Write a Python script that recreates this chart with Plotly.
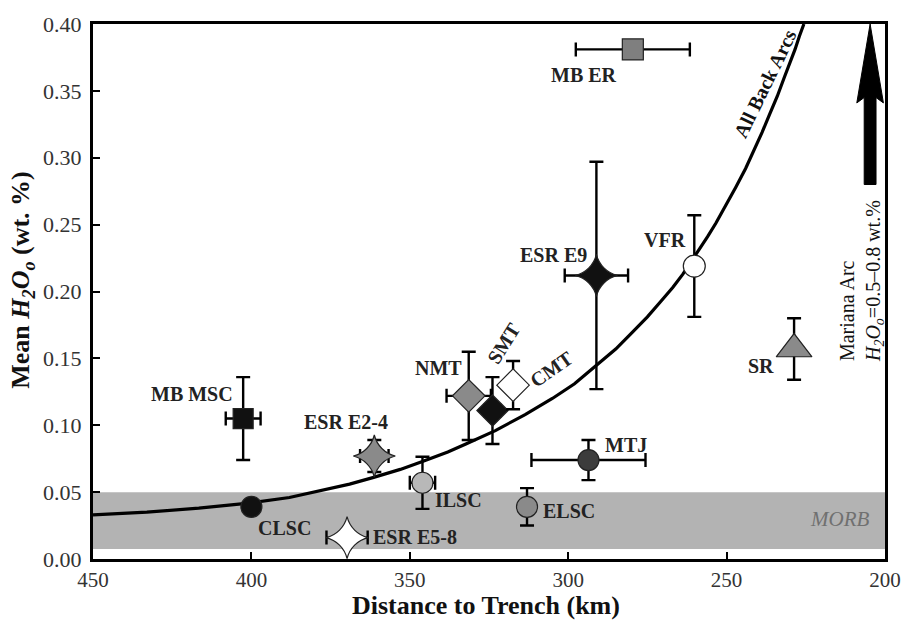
import plotly.graph_objects as go

# ---------------- data ----------------
sites = ["MB MSC", "MB ER", "CLSC", "ILSC", "ELSC", "MTJ", "VFR", "SR",
         "NMT", "SMT", "CMT", "ESR E2-4", "ESR E5-8", "ESR E9"]
distance_km = [402.6, 279.6, 400.0, 346.0, 313.0, 293.6, 260.2, 228.7,
               331.4, 323.9, 317.4, 361.2, 369.8, 291.1]
distance_err = [5.5, 18.0, 0, 4.0, 0, 18.0, 0, 0,
                7.0, 2.5, 0, 4.5, 6.5, 10.0]
h2o_mean = [0.105, 0.381, 0.039, 0.057, 0.039, 0.074, 0.219, 0.157,
            0.122, 0.111, 0.130, 0.077, 0.016, 0.212]
h2o_err = [0.031, 0, 0, 0.0195, 0.014, 0.015, 0.038, 0.023,
           0.033, 0.025, 0.018, 0.012, 0, 0.085]

# "All Back Arcs" curve
curve_km = [450, 433, 416.6, 400.0, 388, 378.2, 369, 361.4, 353, 345.8, 338, 332.3,
            323.0, 313.6, 305, 298.0, 290.8, 285, 280.4, 275, 271.0, 267, 263.8,
            259.8, 256, 253.4, 250, 247.1, 244, 241.2, 238.8, 236.5, 234, 231.8,
            230, 228.4, 227, 225.6]
curve_h2o = [0.033, 0.035, 0.038, 0.042, 0.046, 0.051, 0.056, 0.061, 0.067, 0.073,
             0.080, 0.086, 0.096, 0.108, 0.120, 0.131, 0.145, 0.157, 0.168, 0.181,
             0.192, 0.203, 0.213, 0.227, 0.241, 0.251, 0.265, 0.278, 0.292, 0.306,
             0.319, 0.332, 0.346, 0.360, 0.371, 0.381, 0.391, 0.400]

morb_low, morb_high = 0.0075, 0.05
mariana_arrow_km = 204.7
mariana_arrow_from, mariana_arrow_to = 0.28, 0.40

x_ticks = [450, 400, 350, 300, 250, 200]
y_ticks = [0.00, 0.05, 0.10, 0.15, 0.20, 0.25, 0.30, 0.35, 0.40]

# ---------------- styles ----------------
symbols = ["square", "square", "circle", "circle", "circle", "circle", "circle",
           "triangle-up", "diamond", "diamond", "diamond",
           "star-diamond", "star-diamond", "star-diamond"]
fills = ["#111111", "#7f7f7f", "#111111", "#b8b8b8", "#8a8a8a", "#3c3c3c", "#ffffff",
         "#8a8a8a", "#8a8a8a", "#111111", "#ffffff", "#8a8a8a", "#ffffff", "#111111"]
sizes = [20, 21, 21, 21, 21, 21, 22, 31, 25, 24, 25, 30, 30, 30]

# label placement (x km, y, angle)
label_pos = {
    "MB MSC": (418.8, 0.1234, 0), "MB ER": (294.9, 0.362, 0),
    "CLSC": (389.5, 0.023, 0), "ILSC": (334.5, 0.0439, 0),
    "ELSC": (299.9, 0.0357, 0), "MTJ": (281.8, 0.0855, 0),
    "VFR": (269.3, 0.2387, 0), "SR": (239.0, 0.1442, 0),
    "NMT": (340.8, 0.1428, 0), "SMT": (320.3, 0.1613, -58),
    "CMT": (305.2, 0.142, -35), "ESR E2-4": (370.1, 0.1026, 0),
    "ESR E5-8": (348.3, 0.0164, 0), "ESR E9": (304.6, 0.2275, 0),
}

SERIF = "Liberation Serif"
fig = go.Figure()

# MORB band
fig.add_shape(type="rect", xref="x", yref="y", x0=450, x1=200,
              y0=morb_low, y1=morb_high, fillcolor="#b3b3b3",
              line_width=0, layer="below")

# curve
fig.add_trace(go.Scatter(x=curve_km, y=curve_h2o, mode="lines",
                         line=dict(color="black", width=3.2, shape="linear"),
                         hoverinfo="skip", showlegend=False))

# points
for i, s in enumerate(sites):
    ex = distance_err[i]
    ey = h2o_err[i]
    fig.add_trace(go.Scatter(
        x=[distance_km[i]], y=[h2o_mean[i]], mode="markers", name=s,
        showlegend=False,
        marker=dict(symbol=symbols[i], size=sizes[i], color=fills[i],
                    line=dict(color="#222222", width=1.2)),
        error_x=dict(type="data", array=[ex], visible=ex > 0,
                     color="black", thickness=2.4, width=7),
        error_y=dict(type="data", array=[ey], visible=ey > 0,
                     color="black", thickness=2.4, width=7),
    ))

annotations = []
for s in sites:
    lx, ly, ang = label_pos[s]
    annotations.append(dict(x=lx, y=ly, xref="x", yref="y", text=f"<b>{s}</b>",
                            showarrow=False, textangle=ang,
                            font=dict(family=SERIF, size=20, color="#222222")))

annotations.append(dict(x=238.0, y=0.3554, xref="x", yref="y", text="<b>All Back Arcs</b>",
                        showarrow=False, textangle=-64,
                        font=dict(family=SERIF, size=20, color="#111111")))
annotations.append(dict(x=214.4, y=0.030, xref="x", yref="y", text="<i>MORB</i>",
                        showarrow=False,
                        font=dict(family=SERIF, size=21, color="#707070")))
annotations.append(dict(x=207.6, y=0.1457, xref="x", yref="y", xanchor="center",
                        yanchor="bottom",
                        text="Mariana Arc<br><i>H<sub>2</sub>O<sub>o</sub></i>=0.5\u20130.8 wt.%",
                        showarrow=False, textangle=-90, align="left",
                        font=dict(family=SERIF, size=20, color="#111111")))
# axis titles
annotations.append(dict(x=0, y=0.522, xref="paper", yref="paper", xanchor="center",
                        yanchor="middle", xshift=-71, textangle=-90, showarrow=False,
                        text="<b>Mean <i>H<sub>2</sub>O<sub>o</sub></i> (wt. %)</b>",
                        font=dict(family=SERIF, size=26, color="#111111")))
annotations.append(dict(x=0.496, y=0, xref="paper", yref="paper", xanchor="center",
                        yanchor="middle", yshift=-46, showarrow=False,
                        text="<b>Distance to Trench (km)</b>",
                        font=dict(family=SERIF, size=26, color="#111111")))

# Mariana arc arrow
ax = mariana_arrow_km
sw, hw = 1.87, 4.2
head_base = 0.341
path = (f"M {ax - sw},{mariana_arrow_from} L {ax - sw},{head_base + 0.004} "
        f"L {ax - hw},{head_base} L {ax},{mariana_arrow_to} L {ax + hw},{head_base} "
        f"L {ax + sw},{head_base + 0.004} L {ax + sw},{mariana_arrow_from} Z")
fig.add_shape(type="path", xref="x", yref="y", path=path,
              fillcolor="black", line=dict(color="black", width=1))

fig.update_layout(
    width=913, height=620,
    margin=dict(l=93, r=19, t=21, b=61),
    paper_bgcolor="white", plot_bgcolor="white",
    annotations=annotations,
    font=dict(family=SERIF),
)
fig.update_xaxes(range=[450, 200], tickvals=x_ticks, ticktext=[str(v) for v in x_ticks],
                 ticks="inside", ticklen=7, tickwidth=2, tickcolor="black",
                 showline=True, linewidth=3, linecolor="black", mirror=True,
                 showgrid=False, zeroline=False, ticklabelstandoff=0,
                 tickfont=dict(family=SERIF, size=21, color="#333333"))
fig.update_yaxes(range=[0, 0.40], tickvals=y_ticks, ticktext=[f"{v:.2f}" for v in y_ticks],
                 ticks="inside", ticklen=7, tickwidth=2, tickcolor="black",
                 showline=True, linewidth=3, linecolor="black", mirror=True,
                 showgrid=False, zeroline=False, ticklabelstandoff=4,
                 tickfont=dict(family=SERIF, size=22, color="#333333"))

fig.write_html("out.html")
